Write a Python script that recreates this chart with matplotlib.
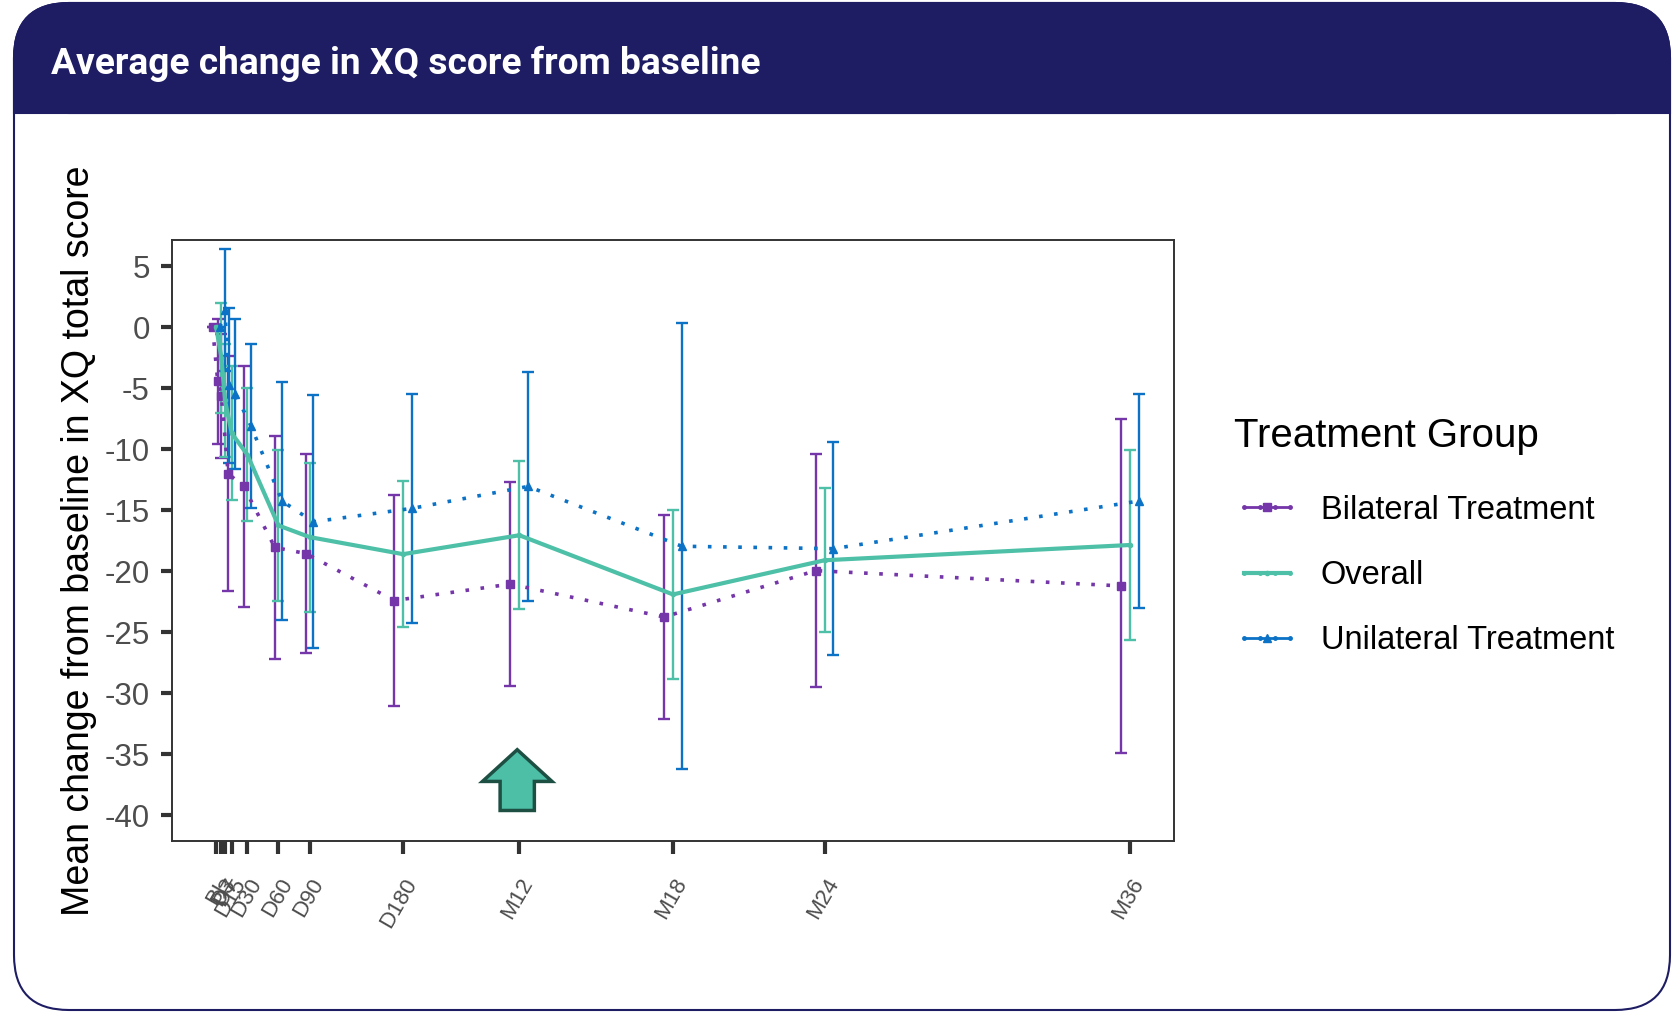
import numpy as np
import matplotlib
matplotlib.use("Agg")
import matplotlib.pyplot as plt
from matplotlib.patches import FancyBboxPatch, Rectangle, FancyArrow
from matplotlib.lines import Line2D
from matplotlib.legend_handler import HandlerLine2D

plt.rcParams['font.family'] = ['Liberation Sans', 'DejaVu Sans']

# visit labels and their position on the time axis (days)
visits = ["BL", "D3", "D7", "D15", "D30", "D60", "D90", "D180", "M12", "M18", "M24", "M36"]
visit_day = np.array([0, 5, 8.5, 15, 30, 60, 90, 180, 292, 440, 586, 880])

groups = ["Bilateral Treatment", "Overall", "Unilateral Treatment"]

# mean change from baseline and 95% CI half-width per group
bilateral_mean = [0, -4.45, -5.65, -12.0, -13.05, -18.05, -18.55, -22.4, -21.05, -23.75, -19.95, -21.2]
bilateral_ci = [0, 5.15, 5.05, 9.6, 9.85, 9.15, 8.15, 8.65, 8.35, 8.35, 9.55, 13.7]
overall_mean = [0, -2.5, -6.0, -8.7, -10.45, -16.25, -17.2, -18.6, -17.05, -21.9, -19.1, -17.85]
overall_ci = [0, 4.5, 4.6, 5.5, 5.45, 6.15, 6.1, 6.0, 6.05, 6.9, 5.9, 7.75]
unilateral_mean = [0, 1.4, -4.75, -5.45, -8.1, -14.25, -15.95, -14.85, -13.05, -17.95, -18.15, -14.25]
unilateral_ci = [0, 5.0, 6.35, 6.15, 6.7, 9.75, 10.35, 9.35, 9.35, 18.25, 8.75, 8.75]

navy = "#1E1D64"
colors = ["#7436A8", "#4DC0A7", "#0B72C5"]
markers = ["s", "o", "^"]

fig = plt.figure(figsize=(16.76, 10.13), dpi=100)

# card + header drawn in pixel coordinates
bg = fig.add_axes([0, 0, 1, 1], zorder=-1)
bg.set_xlim(0, 1676)
bg.set_ylim(1013, 0)
bg.axis("off")
bg.add_patch(FancyBboxPatch((14, 3), 1656, 1007, boxstyle="round,pad=0,rounding_size=55",
                            fc="white", ec=navy, lw=1.5))
bg.add_patch(FancyBboxPatch((14, 3), 1656, 110, boxstyle="round,pad=0,rounding_size=55",
                            fc=navy, ec=navy, lw=1.5))
bg.add_patch(Rectangle((14, 60), 1656, 53, fc=navy, ec=navy, lw=1.5))
bg.text(51, 64, "Average change in XQ score from baseline", color="white", fontsize=26.7,
        fontweight="bold", va="center", ha="left",
        family=["Liberation Sans Narrow", "Roboto", "DejaVu Sans"])

ax = fig.add_axes([0.1026, 0.1698, 0.5979, 0.5928])

# small dodge so the error bars don't sit on top of each other
offset = np.where(visit_day < 100, 3.5, 8.5)

series = [(bilateral_mean, bilateral_ci), (overall_mean, overall_ci), (unilateral_mean, unilateral_ci)]
for i, (m, ci) in enumerate(series):
    x = visit_day + (i - 1) * offset
    ax.errorbar(x, m, yerr=ci, fmt="none", ecolor=colors[i], elinewidth=1.7,
                capsize=4, capthick=1.7, zorder=2)
    if groups[i] == "Overall":
        ax.plot(x, m, color=colors[i], lw=3, marker="o", ms=3, zorder=3)
    else:
        ax.plot(x, m, color=colors[i], lw=2.6, ls=(0, (1, 3.2)), dash_capstyle="butt",
                zorder=3)
        ax.plot(x, m, color=colors[i], ls="none", marker=markers[i], ms=5.5, zorder=3)

# arrow pointing at M12
m12 = visit_day[visits.index("M12")]
ax.add_patch(FancyArrow(m12 - 2, -39.6, 0, 4.98, width=33, head_width=67,
                        head_length=2.6, length_includes_head=True,
                        fc="#4CBFA6", ec="#1D4F43", lw=2.5, zorder=4))

ax.set_xlim(-42.6, 922.7)
ax.set_ylim(-42.1, 7.1)
ax.set_yticks(np.arange(-40, 6, 5))
ax.set_yticklabels([str(v) for v in np.arange(-40, 6, 5)])
ax.set_xticks(visit_day)
ax.set_xticklabels(visits, rotation=60, ha="right", va="top", rotation_mode="anchor")
ax.tick_params(axis="y", labelsize=22.5, length=8, width=3, color="#333333",
               labelcolor="#4D4D4D", pad=8)
ax.tick_params(axis="x", labelsize=16, length=9, width=3, color="#333333",
               labelcolor="#4D4D4D", pad=15)
for s in ax.spines.values():
    s.set_color("#333333")
    s.set_linewidth(1.4)

ax.set_ylabel("Mean change from baseline in XQ total score", fontsize=27, color="black")
ax.yaxis.set_label_coords(-0.075, 0.5)

# legend keys: line with small dots plus the group marker in the middle
handles = []
hmap = {}
for i in range(3):
    lw = 3 if i == 1 else 2
    base = Line2D([], [], color=colors[i], lw=lw, marker="o", ms=2.5)
    big = Line2D([], [], color=colors[i], ls="none", marker=markers[i], ms=(3 if i == 1 else 5.5))
    hmap[base] = HandlerLine2D(numpoints=4)
    hmap[big] = HandlerLine2D(numpoints=1)
    handles.append((base, big))

leg = ax.legend(handles, groups, title="Treatment Group", loc="upper left",
                bbox_to_anchor=(1.031, 0.755), frameon=False, fontsize=23.5, title_fontsize=29,
                handlelength=2.0, labelspacing=1.05, handletextpad=0.65, alignment="left",
                handler_map=hmap)
leg._legend_box.sep = leg._legend_box.sep + 4

fig.savefig("out.png", dpi=100, facecolor="white")
